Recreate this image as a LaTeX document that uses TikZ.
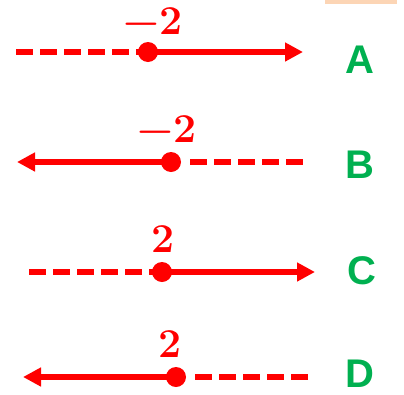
\documentclass[tikz,border=0pt]{standalone}
\usepackage{fontspec}
\newfontfamily\lettersans{Liberation Sans}
\usetikzlibrary{arrows.meta}
\definecolor{rayred}{HTML}{FF0000}
\definecolor{optgreen}{HTML}{00B050}
\definecolor{tabpeach}{HTML}{FCD5B5}
\tikzset{
  ray/.style={draw=rayred, line width=5.5pt},
  solidray/.style={ray, -{Triangle[length=18pt,width=18pt]}},
  dashray/.style={ray, dash pattern=on 17pt off 7pt},
  endpt/.style={circle, fill=rayred, inner sep=0pt, minimum size=20pt},
  numlabel/.style={text=rayred, inner sep=0pt, anchor=base,
    font=\bfseries\fontsize{41}{43}\selectfont},
  optlabel/.style={text=optgreen, inner sep=0pt, anchor=base,
    font=\lettersans\bfseries\fontsize{40}{42}\selectfont}
}
\begin{document}
\begin{tikzpicture}[x=1pt,y=-1pt]
  \useasboundingbox (0,0) rectangle (404,394);
  \fill[tabpeach] (325,0) rectangle (397,4);

  % A: x >= -2
  \coordinate (a0) at (16,52);
  \coordinate (a1) at (303,52);
  \node[endpt] (ad) at (148,52) {};
  \draw[dashray] (a0) -- (ad.center);
  \draw[solidray] (ad.center) -- (a1);
  \node[numlabel] (an) at (153,34) {−2};
  \node[optlabel] (al) at (360,73) {A};

  % B: x <= -2
  \coordinate (b0) at (17,162);
  \coordinate (b1) at (303,162);
  \node[endpt] (bd) at (171,162) {};
  \draw[solidray] (bd.center) -- (b0);
  \draw[dashray] ([xshift=19pt]bd.center) -- (b1);
  \node[numlabel] (bn) at (167,142) {−2};
  \node[optlabel] (bl) at (360,178) {B};

  % C: x >= 2
  \coordinate (c0) at (29,272);
  \coordinate (c1) at (315,272);
  \node[endpt] (cd) at (162,272) {};
  \draw[dashray] (c0) -- (cd.center);
  \draw[solidray] (cd.center) -- (c1);
  \node[numlabel] (cn) at (163,252) {2};
  \node[optlabel] (cl) at (362,284) {C};

  % D: x <= 2
  \coordinate (d0) at (23,377);
  \coordinate (d1) at (308,377);
  \node[endpt] (dd) at (176,377) {};
  \draw[solidray] (dd.center) -- (d0);
  \draw[dashray] ([xshift=19pt]dd.center) -- (d1);
  \node[numlabel] (dn) at (170,357) {2};
  \node[optlabel] (dl) at (360,387) {D};
\end{tikzpicture}
\end{document}
